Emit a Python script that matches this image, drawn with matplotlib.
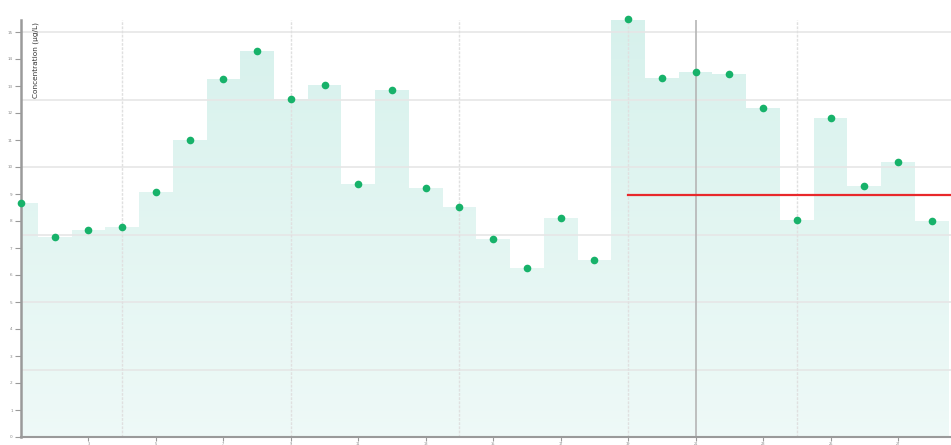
import matplotlib
matplotlib.use("Agg")
import matplotlib.pyplot as plt
import numpy as np

# Data
sample_index = list(range(28))
concentration = [8.67, 7.41, 7.67, 7.78, 9.07, 11.0, 13.26, 14.3, 12.52, 13.04,
                 9.37, 12.85, 9.22, 8.52, 7.33, 6.26, 8.11, 6.56, 15.48, 13.30,
                 13.52, 13.44, 12.19, 8.04, 11.81, 9.30, 10.19, 8.0]
threshold_value = 8.96
threshold_start = 18
marker_index = 20
grid_x_indices = [3, 8, 13, 18, 23]
x_tick_positions = list(range(2, 28, 2))
x_tick_labels = [str(i + 1) for i in x_tick_positions]
y_tick_values = list(range(0, 16))
y_label = "Concentration (µg/L)"

W, H = 951, 445
fig = plt.figure(figsize=(W / 100, H / 100), dpi=100)
ax_left, ax_bottom, ax_right, ax_top = 21, 437, 951, 20
ax = fig.add_axes([ax_left / W, (H - ax_bottom) / H, (ax_right - ax_left) / W, (ax_bottom - ax_top) / H])

xmax = (ax_right - ax_left) / 33.73
ymax = (ax_bottom - ax_top) / 27.0

# filled steps
ax.bar(sample_index, concentration, width=1.0, align="center", color="#d6f1ec",
       edgecolor="none", zorder=1)
# fade toward bottom
grad = np.linspace(0, 0.6, 256).reshape(-1, 1)
rgba = np.ones((256, 1, 4))
rgba[..., 3] = grad
ax.imshow(rgba, extent=[0, 28, 0, 16], origin="upper", aspect="auto", zorder=1.5)
ax.set_xlim(0, xmax)
ax.set_ylim(0, ymax)

# grid
for yv in [2.5, 5, 7.5, 10, 12.5, 15]:
    ax.axhline(yv, color="#e6e6e6", lw=1.2, zorder=2)
for xi in grid_x_indices:
    ax.axvline(xi, color="#e0e0e0", lw=1.0, ls=(0, (2, 1)), zorder=2)
ax.axvline(marker_index, color="#b5b5b5", lw=1.2, zorder=2)

# threshold
ax.plot([threshold_start, 30], [threshold_value, threshold_value], color="#e8282b",
        lw=1.6, zorder=3)

# points
ax.plot(sample_index, concentration, "o", color="#17b26a", ms=5.5, mec="none",
        zorder=4, clip_on=False)

for s in ["top", "right"]:
    ax.spines[s].set_visible(False)
ax.spines["left"].set_color("#9a9a9a")
ax.spines["left"].set_linewidth(1.8)
ax.spines["bottom"].set_color("#9a9a9a")
ax.spines["bottom"].set_linewidth(1.5)

ax.set_yticks(y_tick_values)
ax.set_yticklabels([str(v) for v in y_tick_values], fontsize=3, color="#888888")
ax.tick_params(axis="y", length=4, width=0.8, color="#9a9a9a", pad=2)
ax.set_xticks(x_tick_positions)
ax.set_xticklabels(x_tick_labels, fontsize=2.5, color="#888888")
ax.tick_params(axis="x", length=3, width=0.8, color="#9a9a9a", pad=0.5)

ax.text(0.012, 0.995, y_label, transform=ax.transAxes, rotation=90, ha="left",
        va="top", fontsize=5.3, color="#333333", zorder=5)

fig.savefig("out.png", dpi=100)
